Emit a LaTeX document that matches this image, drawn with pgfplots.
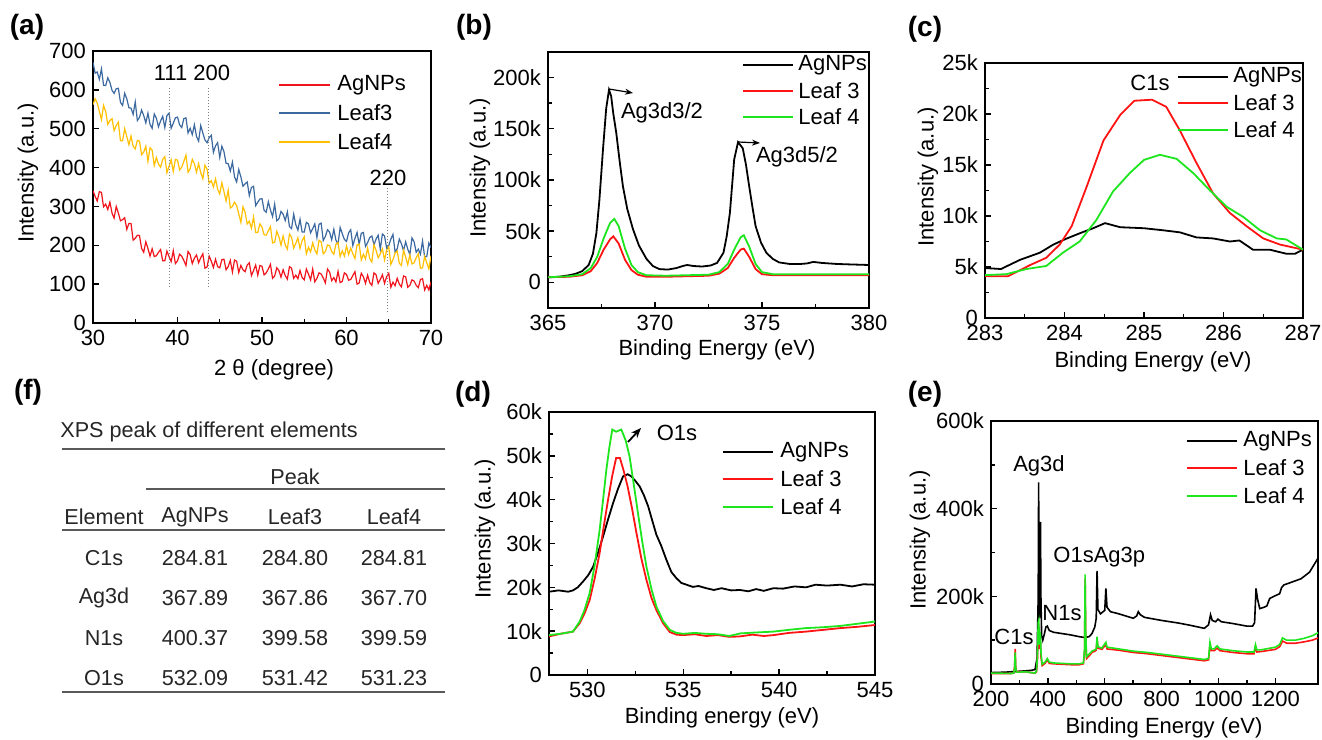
\documentclass[border=0pt]{standalone}
\usepackage{pgfplots}
\pgfplotsset{compat=1.18}
\usepackage{fontspec}
\setmainfont{Liberation Sans}
\usetikzlibrary{arrows.meta}
\definecolor{xrdred}{RGB}{240,20,28}
\definecolor{xrdblue}{RGB}{60,105,160}
\definecolor{xrdyellow}{RGB}{255,192,0}
\definecolor{xpsred}{RGB}{255,20,20}
\definecolor{xpsgreen}{RGB}{30,230,30}
\pgfplotsset{myax/.style={scale only axis, anchor=south west,
  axis line style={line width=1pt}, tick align=inside,
  major tick length=3pt, minor tick length=1.8pt,
  every tick/.style={line width=0.7pt, black},
  xtick pos=lower, ytick pos=left,
  tick label style={font=\fontsize{11}{13}\selectfont},
  /pgf/number format/assume math mode=true,
  /pgf/number format/1000 sep={},
  scaled ticks=false}}
\begin{document}
\begin{tikzpicture}
\path[use as bounding box] (0,0) rectangle (661pt,369.5pt);
% ---------- (a) ----------
\begin{axis}[myax, at={(46.5pt,208pt)}, width=169pt, height=136pt,
  xmin=30, xmax=70, ymin=0, ymax=700, xtick={30,40,...,70}, minor x tick num=1,
  ytick={0,100,...,700}]
\addplot[xrdblue, line width=0.6pt] coordinates {(30,671)(30.25,643)(30.5,646)(30.75,627)(31,654)(31.25,612)(31.5,611)(31.75,631)(32,619)(32.25,599)(32.5,591)(32.75,603)(33,604)(33.25,568)(33.5,560)(33.75,591)(34,577)(34.25,554)(34.5,553)(34.75,537)(35,569)(35.25,521)(35.5,529)(35.75,548)(36,534)(36.25,515)(36.5,540)(36.75,511)(37,501)(37.25,538)(37.5,527)(37.75,505)(38,520)(38.25,532)(38.5,503)(38.75,534)(39,540)(39.25,501)(39.5,514)(39.75,528)(40,530)(40.25,510)(40.5,503)(40.75,526)(41,528)(41.25,489)(41.5,501)(41.75,485)(42,510)(42.25,480)(42.5,468)(42.75,508)(43,489)(43.25,471)(43.5,464)(43.75,477)(44,483)(44.25,439)(44.5,456)(44.75,464)(45,426)(45.25,455)(45.5,441)(45.75,411)(46,410)(46.25,391)(46.5,414)(46.75,376)(47,363)(47.25,395)(47.5,376)(47.75,352)(48,358)(48.25,363)(48.5,328)(48.75,349)(49,352)(49.25,302)(49.5,311)(49.75,319)(50,320)(50.25,290)(50.5,285)(50.75,312)(51,291)(51.25,274)(51.5,306)(51.75,263)(52,268)(52.25,287)(52.5,280)(52.75,264)(53,286)(53.25,248)(53.5,243)(53.75,280)(54,253)(54.25,239)(54.5,267)(54.75,234)(55,234)(55.25,259)(55.5,255)(55.75,232)(56,243)(56.25,255)(56.5,220)(56.75,254)(57,257)(57.25,212)(57.5,223)(57.75,240)(58,234)(58.25,214)(58.5,241)(58.75,213)(59,203)(59.25,246)(59.5,230)(59.75,215)(60,210)(60.25,232)(60.5,240)(60.75,199)(61,218)(61.25,233)(61.5,202)(61.75,231)(62,233)(62.25,197)(62.5,207)(62.75,220)(63,224)(63.25,201)(63.5,216)(63.75,226)(64,190)(64.25,229)(64.5,224)(64.75,193)(65,199)(65.25,216)(65.5,228)(65.75,183)(66,191)(66.25,216)(66.5,204)(66.75,186)(67,209)(67.25,190)(67.5,176)(67.75,219)(68,209)(68.25,182)(68.5,190)(68.75,177)(69,211)(69.25,170)(69.5,171)(69.75,206)(70,194)};
\addplot[xrdyellow, line width=0.6pt] coordinates {(30,562)(30.25,577)(30.5,566)(30.75,545)(31,523)(31.25,560)(31.5,544)(31.75,511)(32,521)(32.25,526)(32.5,495)(32.75,508)(33,517)(33.25,469)(33.5,469)(33.75,500)(34,480)(34.25,459)(34.5,481)(34.75,455)(35,448)(35.25,470)(35.5,468)(35.75,433)(36,440)(36.25,455)(36.5,416)(36.75,451)(37,445)(37.25,405)(37.5,426)(37.75,409)(38,401)(38.25,421)(38.5,428)(38.75,387)(39,403)(39.25,420)(39.5,390)(39.75,421)(40,419)(40.25,394)(40.5,401)(40.75,416)(41,432)(41.25,388)(41.5,397)(41.75,421)(42,410)(42.25,388)(42.5,410)(42.75,387)(43,371)(43.25,406)(43.5,396)(43.75,360)(44,366)(44.25,350)(44.5,371)(44.75,344)(45,332)(45.25,361)(45.5,338)(45.75,314)(46,342)(46.25,296)(46.5,300)(46.75,311)(47,302)(47.25,281)(47.5,259)(47.75,299)(48,285)(48.25,255)(48.5,262)(48.75,244)(49,273)(49.25,233)(49.5,233)(49.75,255)(50,247)(50.25,227)(50.5,226)(50.75,237)(51,248)(51.25,206)(51.5,208)(51.75,236)(52,222)(52.25,200)(52.5,224)(52.75,201)(53,190)(53.25,229)(53.5,221)(53.75,193)(54,205)(54.25,219)(54.5,192)(54.75,212)(55,222)(55.25,178)(55.5,195)(55.75,183)(56,206)(56.25,188)(56.5,178)(56.75,213)(57,209)(57.25,178)(57.5,184)(57.75,201)(58,199)(58.25,184)(58.5,177)(58.75,203)(59,207)(59.25,171)(59.5,186)(59.75,172)(60,198)(60.25,176)(60.5,193)(60.75,178)(61,166)(61.25,201)(61.5,203)(61.75,162)(62,177)(62.25,165)(62.5,193)(62.75,166)(63,157)(63.25,201)(63.5,187)(63.75,168)(64,178)(64.25,191)(64.5,162)(64.75,188)(65,196)(65.25,151)(65.5,163)(65.75,180)(66,185)(66.25,154)(66.5,148)(66.75,187)(67,170)(67.25,150)(67.5,175)(67.75,152)(68,155)(68.25,168)(68.5,178)(68.75,141)(69,142)(69.25,171)(69.5,155)(69.75,139)(70,173)};
\addplot[xrdred, line width=0.6pt] coordinates {(30,340)(30.25,326)(30.5,314)(30.75,338)(31,336)(31.25,299)(31.5,306)(31.75,292)(32,311)(32.25,283)(32.5,270)(32.75,300)(33,283)(33.25,263)(33.5,266)(33.75,271)(34,241)(34.25,256)(34.5,256)(34.75,213)(35,218)(35.25,226)(35.5,225)(35.75,192)(36,182)(36.25,209)(36.5,192)(36.75,172)(37,191)(37.25,171)(37.5,173)(37.75,182)(38,189)(38.25,160)(38.5,160)(38.75,185)(39,171)(39.25,158)(39.5,186)(39.75,153)(40,160)(40.25,177)(40.5,172)(40.75,161)(41,148)(41.25,184)(41.5,176)(41.75,153)(42,167)(42.25,175)(42.5,155)(42.75,168)(43,178)(43.25,141)(43.5,144)(43.75,172)(44,159)(44.25,143)(44.5,164)(44.75,145)(45,142)(45.25,163)(45.5,164)(45.75,137)(46,145)(46.25,161)(46.5,131)(46.75,162)(47,159)(47.25,130)(47.5,148)(47.75,137)(48,132)(48.25,149)(48.5,155)(48.75,122)(49,135)(49.25,149)(49.5,123)(49.75,148)(50,146)(50.25,124)(50.5,129)(50.75,139)(51,151)(51.25,115)(51.5,121)(51.75,142)(52,135)(52.25,118)(52.5,137)(52.75,122)(53,113)(53.25,145)(53.5,141)(53.75,115)(54,123)(54.25,114)(54.5,135)(54.75,117)(55,111)(55.25,139)(55.5,126)(55.75,111)(56,139)(56.25,106)(56.5,115)(56.75,129)(57,126)(57.25,116)(57.5,103)(57.75,139)(58,131)(58.25,109)(58.5,117)(58.75,106)(59,133)(59.25,104)(59.5,107)(59.75,129)(60,125)(60.25,110)(60.5,112)(60.75,122)(61,132)(61.25,100)(61.5,103)(61.75,128)(62,119)(62.25,102)(62.5,123)(62.75,104)(63,97)(63.25,129)(63.5,124)(63.75,102)(64,112)(64.25,124)(64.5,102)(64.75,119)(65,128)(65.25,92)(65.5,105)(65.75,96)(66,115)(66.25,100)(66.5,93)(66.75,121)(67,119)(67.25,92)(67.5,97)(67.75,111)(68,108)(68.25,97)(68.5,91)(68.75,112)(69,114)(69.25,85)(69.5,97)(69.75,85)(70,106)};
\draw[gray, densely dotted, line width=0.5pt] (axis cs:39.1,93) -- (axis cs:39.1,605);
\draw[gray, densely dotted, line width=0.5pt] (axis cs:43.7,93) -- (axis cs:43.7,605);
\draw[gray, densely dotted, line width=0.5pt] (axis cs:64.8,28) -- (axis cs:64.8,347);
\end{axis}
% ---------- (b) ----------
\begin{axis}[myax, at={(274pt,215.5pt)}, width=160.5pt, height=128pt,
  xmin=365, xmax=380, ymin=-25, ymax=225, xtick={365,370,375,380}, minor x tick num=1,
  ytick={0,50,100,150,200}, yticklabels={0,50k,100k,150k,200k}, minor y tick num=1]
\addplot[black, line width=0.9pt] coordinates {(365.0,5)(365.5,5.5)(366.0,7)(366.3,8.5)(366.6,11)(366.9,17)(367.1,28)(367.26,48)(367.4,80)(367.57,130)(367.72,170)(367.85,188)(367.95,182)(368.05,165)(368.19,146)(368.35,118)(368.5,94)(368.7,72)(368.97,52)(369.25,36)(369.6,23)(369.9,16)(370.2,13)(370.6,12.5)(371.0,14)(371.3,16)(371.5,17)(371.8,16)(372.2,15.5)(372.6,16.5)(372.9,19)(373.2,29)(373.35,45)(373.5,68)(373.7,120)(373.88,137)(374.1,131)(374.25,115)(374.4,94)(374.55,74)(374.7,55)(374.95,39)(375.2,29)(375.5,23)(375.8,19.5)(376.3,18)(376.8,18)(377.1,18.5)(377.4,20)(377.8,19)(378.5,18)(379.2,17.5)(380.0,17)};
\addplot[xpsred, line width=0.9pt] coordinates {(365,5)(366,5.5)(366.6,7)(367.0,11)(367.3,19)(367.6,32)(367.9,42)(368.05,45)(368.3,38)(368.6,22)(368.9,12)(369.2,7.5)(369.6,5.5)(370.5,5.5)(371.5,6)(372.5,6.5)(373.0,8.5)(373.4,14)(373.7,24)(374.0,32)(374.15,33)(374.4,25)(374.7,13)(375.0,8)(375.5,7)(377,7)(380,7)};
\addplot[xpsgreen, line width=0.9pt] coordinates {(365,5)(366,6)(366.6,8)(367.0,14)(367.3,25)(367.6,43)(367.9,58)(368.1,62)(368.3,55)(368.6,33)(368.9,17)(369.2,10)(369.6,7)(370.5,6.5)(371.5,7)(372.5,7.5)(373.0,10)(373.4,18)(373.7,32)(374.0,44)(374.15,46)(374.4,35)(374.7,18)(375.0,10)(375.5,8)(377,8)(380,8)};
\end{axis}
% ---------- (c) ----------
\begin{axis}[myax, at={(492.5pt,210.5pt)}, width=159pt, height=127.5pt,
  xmin=283, xmax=287, ymin=0, ymax=25, xtick={283,284,285,286,287}, minor x tick num=1,
  ytick={0,5,10,15,20,25}, yticklabels={0,5k,10k,15k,20k,25k}, minor y tick num=1]
\addplot[black, line width=0.9pt] coordinates {(283.0,4.9)(283.2,4.8)(283.44,5.7)(283.69,6.4)(283.86,7.2)(284.03,7.8)(284.19,8.3)(284.36,8.8)(284.51,9.3)(284.7,8.9)(285.0,8.8)(285.24,8.6)(285.45,8.4)(285.66,7.9)(285.87,7.8)(286.08,7.5)(286.2,7.6)(286.37,6.7)(286.58,6.7)(286.79,6.3)(286.9,6.3)(287,6.7)};
\addplot[xpsred, line width=0.9pt] coordinates {(283,4.1)(283.29,4.1)(283.57,5.2)(283.77,5.9)(283.94,7.2)(284.09,9.0)(284.28,12.9)(284.49,17.4)(284.7,19.9)(284.88,21.3)(285.1,21.4)(285.28,20.7)(285.45,18.4)(285.66,15.2)(285.87,12.2)(286.08,10.3)(286.29,9.0)(286.5,7.8)(286.71,7.2)(287,6.7)};
\addplot[xpsgreen, line width=0.9pt] coordinates {(283,4.2)(283.27,4.3)(283.52,4.8)(283.77,5.1)(283.98,6.4)(284.19,7.5)(284.4,9.6)(284.61,12.4)(284.82,14.2)(285.0,15.5)(285.2,16.0)(285.41,15.6)(285.62,14.2)(285.83,12.5)(286.04,10.9)(286.25,9.9)(286.46,8.6)(286.67,7.8)(286.79,7.7)(287,6.7)};
\end{axis}
% ---------- (d) ----------
\begin{axis}[myax, at={(274.5pt,32pt)}, width=163pt, height=131.5pt,
  xmin=528, xmax=545, ymin=0, ymax=60, xtick={530,535,540,545}, minor x tick num=1,
  ytick={0,10,...,60}, yticklabels={0,10k,20k,30k,40k,50k,60k}, minor y tick num=1]
\addplot[black, line width=0.9pt] coordinates {(528,19.0)(528.5,19.3)(529,19.0)(529.25,19.3)(529.5,20.0)(529.77,21.3)(530.05,22.8)(530.3,24.7)(530.55,27.8)(530.82,31.6)(531.08,35.5)(531.34,39.2)(531.6,42.5)(531.86,45.3)(532.1,45.8)(532.3,45.3)(532.5,44.3)(532.73,43.0)(532.95,41.0)(533.17,38.5)(533.4,35.0)(533.6,32.0)(533.85,29.5)(534.12,26.3)(534.38,23.5)(534.64,22.1)(534.9,21.0)(535.17,20.6)(535.5,20.1)(535.8,20.3)(536.2,19.8)(536.6,19.4)(537,19.8)(537.5,19.3)(537.95,19.4)(538.4,19.1)(538.8,19.6)(539.2,19.2)(539.7,19.8)(540.2,19.7)(540.8,20.2)(541.4,20.0)(541.9,20.6)(542.5,20.4)(543.2,20.6)(543.8,20.2)(544.4,20.7)(545,20.6)};
\addplot[xpsred, line width=0.9pt] coordinates {(528,8.8)(528.6,9.4)(529.25,9.9)(529.6,11.8)(529.85,14.0)(530.12,17.1)(530.38,22.0)(530.64,27.8)(530.86,34.0)(531.08,40.0)(531.3,45.5)(531.5,49.5)(531.7,49.5)(531.9,46.5)(532.1,43.0)(532.33,38.0)(532.56,32.4)(532.82,26.5)(533.08,21.7)(533.35,17.5)(533.6,14.8)(533.95,11.8)(534.3,9.8)(534.65,9.2)(535,9.1)(535.6,9.3)(536.2,8.9)(536.8,9.1)(537.4,8.7)(537.95,8.8)(538.6,9.2)(539.2,8.9)(539.7,9.1)(540.5,9.6)(541.4,9.9)(542.3,10.3)(543.2,10.7)(544.1,11.0)(545,11.4)};
\addplot[xpsgreen, line width=0.9pt] coordinates {(528,9.1)(528.6,9.4)(529.25,9.9)(529.6,12.2)(529.85,14.8)(530.12,18.7)(530.38,25.0)(530.64,33.1)(530.82,40.0)(530.99,46.8)(531.15,52.0)(531.3,56.0)(531.5,55.5)(531.77,56.0)(532.0,53.5)(532.2,49.9)(532.42,43.5)(532.64,36.9)(532.86,30.5)(533.08,24.7)(533.35,19.5)(533.6,15.6)(533.95,12.3)(534.3,10.3)(534.65,9.6)(535,9.4)(535.6,9.6)(536.2,9.4)(536.8,9.3)(537.4,8.9)(538,9.5)(538.8,9.7)(539.7,9.9)(540.5,10.3)(541.4,10.7)(542.3,10.9)(543.2,11.2)(544.1,11.7)(545,12.2)};
\end{axis}
% ---------- (e) ----------
\begin{axis}[myax, at={(495.5pt,27.5pt)}, width=163.5pt, height=131.5pt,
  xmin=200, xmax=1350, ymin=0, ymax=600, xtick={200,400,...,1200}, minor x tick num=1,
  ytick={0,200,400,600}, yticklabels={0,200k,400k,600k}, minor y tick num=1]
\addplot[black, line width=0.8pt] coordinates {(200,26)(250,27)(300,29)(340,31)(355,33)(362,60)(366,200)(367.5,460)(368.5,250)(370,150)(372,200)(374,370)(375.5,200)(378,110)(382,100)(388,115)(393,130)(398,132)(405,122)(420,118)(450,115)(480,112)(510,108)(530,106)(545,108)(555,115)(565,130)(570,150)(573,258)(576,170)(585,160)(600,168)(604,218)(608,175)(620,165)(650,160)(700,150)(712,155)(718,165)(725,158)(740,152)(800,145)(860,139)(900,134)(950,127)(965,135)(972,158)(978,145)(990,142)(998,148)(1010,142)(1050,138)(1100,132)(1120,132)(1127,140)(1132,218)(1137,195)(1145,172)(1160,175)(1170,178)(1180,195)(1195,200)(1215,206)(1222,220)(1230,226)(1260,233)(1290,240)(1320,255)(1350,287)};
\addplot[xpsred, line width=0.8pt] coordinates {(200,24)(270,24)(280,25)(283,40)(285,80)(287,38)(290,28)(300,28)(320,28)(340,26)(355,25)(360,28)(363,50)(366,120)(368,125)(370,80)(372,100)(374,95)(376,60)(380,42)(390,47)(398,55)(405,47)(420,46)(450,45)(480,44)(510,44)(525,46)(529,75)(531,240)(533,110)(536,58)(545,64)(555,72)(565,75)(570,77)(573,100)(576,82)(590,79)(604,90)(608,80)(650,77)(700,72)(750,69)(800,65)(850,61)(900,57)(950,53)(965,55)(970,88)(975,76)(985,76)(995,82)(1005,76)(1050,72)(1100,69)(1125,69)(1130,84)(1135,73)(1150,74)(1200,79)(1215,85)(1225,98)(1240,93)(1270,93)(1300,96)(1330,100)(1350,105)};
\addplot[xpsgreen, line width=0.8pt] coordinates {(200,25)(270,24)(280,25)(283,35)(285,72)(287,35)(290,27)(300,27)(320,28)(340,26)(355,25)(360,30)(363,60)(366,140)(368,145)(370,90)(372,120)(374,110)(376,70)(380,45)(390,50)(398,58)(405,50)(420,48)(450,47)(480,46)(510,46)(525,48)(529,80)(531,250)(533,120)(536,62)(545,68)(555,75)(565,78)(570,80)(573,108)(576,85)(590,82)(604,95)(608,84)(650,80)(700,75)(750,72)(800,68)(850,64)(900,60)(950,56)(965,58)(970,95)(975,80)(985,80)(995,87)(1005,80)(1050,76)(1100,73)(1125,73)(1130,90)(1135,78)(1150,78)(1200,84)(1215,90)(1225,105)(1240,100)(1270,100)(1300,104)(1330,110)(1350,117)};
\end{axis}
% ---------- text, legends, table ----------
\begin{scope}[x=0.5pt, y=-0.5pt, yshift=369.5pt, every node/.style={font=\fontsize{11}{13}\selectfont, inner sep=0pt}]
\foreach \p/\xx/\yy in {a/27/27, b/474/27, c/925/29, d/473/394, e/925/394, f/28/392}
  \node[font=\fontsize{14}{16}\selectfont\bfseries] at (\xx,\yy) {(\p)};
\node[rotate=90] at (28,173) {Intensity (a.u.)};
\node[rotate=90] at (480,168) {Intensity (a.u.)};
\node[rotate=90] at (928,177) {Intensity (a.u.)};
\node[rotate=90] at (485,529) {Intensity (a.u.)};
\node[rotate=90] at (920,540) {Intensity (a.u.)};
\node at (274,370) {2 θ (degree)};
\node at (717,350) {Binding Energy (eV)};
\node at (1153,362) {Binding Energy (eV)};
\node at (722,718) {Binding energy (eV)};
\node at (1164,728) {Binding Energy (eV)};
\draw[xrdred, line width=0.6pt] (279,85) -- (330,85); \node[anchor=west] at (337,85) {AgNPs};
\draw[xrdblue, line width=0.6pt] (279,113) -- (330,113); \node[anchor=west] at (337,113) {Leaf3};
\draw[xrdyellow, line width=0.6pt] (279,142) -- (330,142); \node[anchor=west] at (337,142) {Leaf4};
\foreach \xa/\xb/\xc/\ya/\yb/\yc in {743/793/798/65/91/117, 1178/1228/1233/77/103/130, 723/773/780/452/479/507, 1187/1237/1243/441/468/496}{
  \draw[black, line width=0.9pt] (\xa,\ya) -- (\xb,\ya); \node[anchor=west] at (\xc,\ya) {AgNPs};
  \draw[xpsred, line width=0.9pt] (\xa,\yb) -- (\xb,\yb); \node[anchor=west] at (\xc,\yb) {Leaf 3};
  \draw[xpsgreen, line width=0.9pt] (\xa,\yc) -- (\xb,\yc); \node[anchor=west] at (\xc,\yc) {Leaf 4};
}
\node at (192,73) {111 200};
\node at (388,178) {220};
\node at (662,113) {Ag3d3/2};
\node at (797,157) {Ag3d5/2};
\draw[-{Stealth[length=4pt]}, line width=0.6pt] (609,89) -- (633,93);
\draw[-{Stealth[length=4pt]}, line width=0.6pt] (738,142) -- (760,143);
\node at (1150,83) {C1s};
\node at (677,433) {O1s};
\draw[-{Stealth[length=5pt,width=4pt]}, line width=0.9pt] (628,442) -- (641,428);
\node at (1039,466) {Ag3d};
\node[anchor=west] at (1053,557) {O1sAg3p};
\node at (1062,613) {N1s};
\node at (1014,637) {C1s};
\begin{scope}[every node/.style={font=\fontsize{10.8}{13}\selectfont, inner sep=0pt, text=black!85}]
\node[anchor=west] at (60,432) {XPS peak of different elements};
\draw[black!65, line width=0.6pt] (62,449) -- (445,449);
\node at (295,477) {Peak};
\draw[black!65, line width=0.6pt] (146,489) -- (445,489);
\node at (104,517) {Element}; \node at (195,517) {AgNPs}; \node at (295,517) {Leaf3}; \node at (394,517) {Leaf4};
\draw[black!65, line width=0.6pt] (62,530) -- (445,530);
\node at (104,558) {C1s}; \node at (195,558) {284.81}; \node at (295,558) {284.80}; \node at (394,558) {284.81};
\node at (104,598) {Ag3d}; \node at (195,598) {367.89}; \node at (295,598) {367.86}; \node at (394,598) {367.70};
\node at (104,638) {N1s}; \node at (195,638) {400.37}; \node at (295,638) {399.58}; \node at (394,638) {399.59};
\node at (104,678) {O1s}; \node at (195,678) {532.09}; \node at (295,678) {531.42}; \node at (394,678) {531.23};
\draw[black!65, line width=0.6pt] (62,692) -- (445,692);
\end{scope}
\end{scope}
\end{tikzpicture}
\end{document}
